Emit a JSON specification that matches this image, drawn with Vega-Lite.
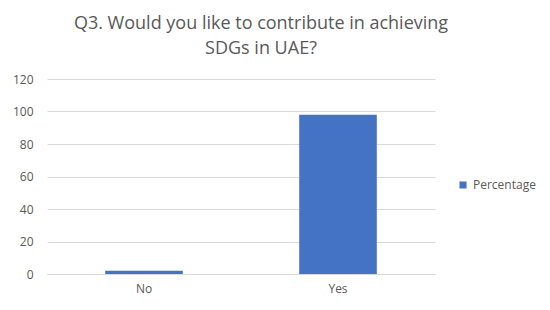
{
  "$schema": "https://vega.github.io/schema/vega-lite/v6.json",
  "width": 388,
  "height": 195,
  "autosize": {"type": "none"},
  "padding": {"left": 47, "top": 79, "right": 115, "bottom": 36},
  "background": "white",
  "title": {
    "text": ["Q3. Would you like to contribute in achieving", "SDGs in UAE?"],
    "anchor": "middle",
    "frame": "group",
    "dx": 20,
    "fontSize": 18,
    "font": "Open Sans",
    "fontWeight": "normal",
    "color": "#595959",
    "lineHeight": 25,
    "offset": 15
  },
  "data": {
    "values": [
      {"answer": "No", "Percentage": 2},
      {"answer": "Yes", "Percentage": 98}
    ]
  },
  "mark": {"type": "bar", "color": "#4472c4"},
  "encoding": {
    "x": {
      "field": "answer",
      "type": "nominal",
      "title": null,
      "scale": {"paddingInner": 0.6, "paddingOuter": 0.3},
      "axis": {
        "labelAngle": 0,
        "labelFont": "Open Sans",
        "labelFontSize": 12,
        "labelColor": "#595959",
        "labelPadding": 9,
        "ticks": false,
        "domainColor": "#d9d9d9",
        "domainWidth": 1
      }
    },
    "y": {
      "field": "Percentage",
      "type": "quantitative",
      "title": null,
      "scale": {"domain": [0, 120]},
      "axis": {
        "values": [0, 20, 40, 60, 80, 100, 120],
        "labelFont": "Open Sans",
        "labelFontSize": 12,
        "labelColor": "#595959",
        "labelPadding": 14,
        "ticks": false,
        "domain": false,
        "gridColor": "#d9d9d9",
        "gridWidth": 1
      }
    },
    "color": {
      "datum": "Percentage",
      "type": "nominal",
      "scale": {"range": ["#4472c4"]},
      "legend": {
        "title": null,
        "orient": "none",
        "legendX": 410,
        "legendY": 100,
        "symbolType": "square",
        "symbolSize": 50,
        "labelFont": "Open Sans",
        "labelFontSize": 12,
        "labelColor": "#595959"
      }
    }
  },
  "config": {"view": {"stroke": null}}
}
